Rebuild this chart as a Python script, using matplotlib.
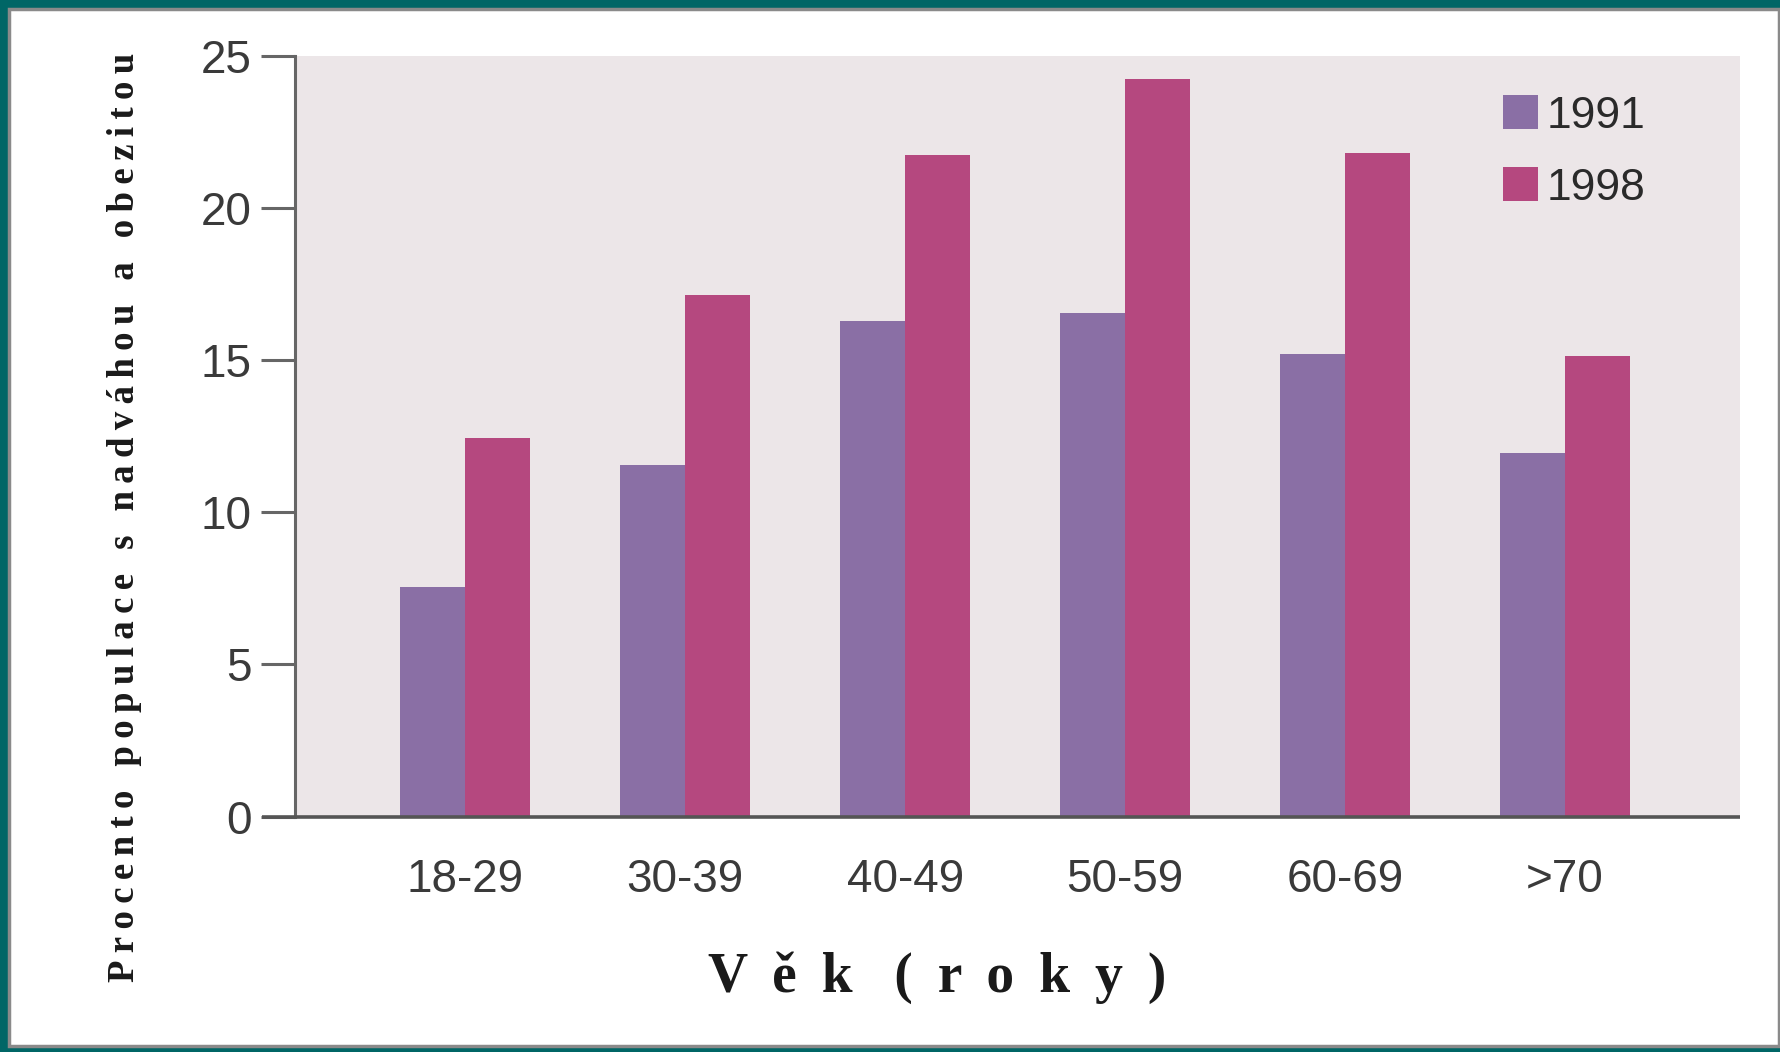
import matplotlib
matplotlib.use("Agg")
import matplotlib.pyplot as plt
from matplotlib.patches import Patch, Rectangle
import numpy as np

categories = ["18-29", "30-39", "40-49", "50-59", "60-69", ">70"]
v1991 = [7.55, 11.55, 16.3, 16.55, 15.2, 11.95]
v1998 = [12.45, 17.15, 21.75, 24.25, 21.8, 15.15]
series_labels = ["1991", "1998"]
yticks = [0, 5, 10, 15, 20, 25]

c1991 = "#8a6fa5"
c1998 = "#b5487f"
bg = "#ece6e8"
axis_col = "#666666"
txt_col = "#3a3a3a"

narrow = ["Liberation Sans Narrow", "Liberation Sans", "DejaVu Sans"]
serif = ["Liberation Serif", "DejaVu Serif"]

W, H = 1781, 1052
fig = plt.figure(figsize=(W / 100, H / 100), dpi=100, facecolor="#006666")
# white inner panel
panel = Rectangle((9 / W, 6 / H), (1779 - 9) / W, (1043 - 6) / H,
                  transform=fig.transFigure, facecolor="white",
                  edgecolor="#8a8a8a", linewidth=2.5, zorder=-10)
fig.patches.append(panel)

ax = fig.add_axes([295 / W, (H - 816.5) / H, (1740 - 295) / W, (816.5 - 55.8) / H])
ax.set_zorder(5)
ax.set_facecolor(bg)

x = np.arange(len(categories))
bw = 0.295
ax.bar(x - bw / 2, v1991, width=bw, color=c1991, zorder=2)
ax.bar(x + bw / 2, v1998, width=bw, color=c1998, zorder=2)

ax.set_xlim(-0.773, 5.795)
ax.set_ylim(0, 25)

for s in ["top", "right"]:
    ax.spines[s].set_visible(False)
ax.spines["left"].set_color(axis_col)
ax.spines["left"].set_linewidth(2.2)
ax.spines["bottom"].set_visible(False)
ax.plot([-0.023, 1.0], [0, 0], transform=ax.get_yaxis_transform(),
        color="#555555", lw=2.6, clip_on=False, zorder=5, solid_capstyle="butt")

ax.set_yticks(yticks)
ax.set_yticklabels([str(t) for t in yticks], family=narrow, fontsize=33, color=txt_col)
ax.tick_params(axis="y", length=24.5, width=2.2, color=axis_col, pad=6.5)

ax.set_xticks(x)
ax.set_xticklabels(categories, family=narrow, fontsize=33, color=txt_col)
ax.tick_params(axis="x", length=0, pad=30)

sp = " \u2009"
xlab = sp.join("Věk") + "   " + sp.join("(roky)")
fig.text(937 / W, 1 - 978 / H, xlab, family=serif, fontsize=40,
         fontweight="bold", color="#1a1a1a", ha="center", va="center")
ylab_words = ["Procento", "populace", "s", "nadváhou", "a", "obezitou"]
ylab = "\u2009 \u2009".join("\u2009".join(w) for w in ylab_words)
fig.text(125 / W, 1 - 517 / H, ylab,
         family=serif, fontsize=26.5, fontweight="bold", color="#1a1a1a",
         ha="center", va="center", rotation=90)

handles = [Patch(facecolor=c1991, edgecolor="none"), Patch(facecolor=c1998, edgecolor="none")]
leg = ax.legend(handles, series_labels, loc="upper left", bbox_to_anchor=(0.836, 0.948),
                frameon=False, prop={"family": narrow, "size": 32},
                handlelength=0.79, handleheight=0.79, handletextpad=0.2,
                labelspacing=0.69, borderpad=0, borderaxespad=0)
for t in leg.get_texts():
    t.set_color("#2a2a2a")

fig.savefig("out.png", dpi=100, facecolor=fig.get_facecolor())
